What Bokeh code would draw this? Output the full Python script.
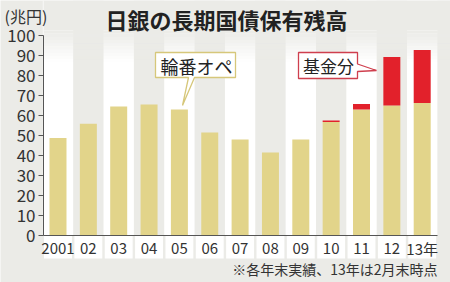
from bokeh.plotting import figure
from bokeh.models import Range1d, FixedTicker
from bokeh.core.properties import value
from bokeh.embed import file_html
from bokeh.resources import INLINE

# ---- data ----
years = ["2001", "02", "03", "04", "05", "06", "07", "08", "09", "10", "11", "12", "13年"]
rinban = [48.7, 55.9, 64.5, 65.5, 63.0, 51.5, 48.0, 41.5, 48.0, 56.8, 63.0, 65.0, 66.3]
kikin = [0, 0, 0, 0, 0, 0, 0, 0, 0, 0.7, 2.8, 24.2, 26.5]
yticks = [0, 10, 20, 30, 40, 50, 60, 70, 80, 90, 100]

title_text = "日銀の長期国債保有残高"
unit_text = "(兆円)"
note_text = "※各年末実績、13年は2月末時点"
call1_text = "輪番オペ"
call2_text = "基金分"

# ---- layout constants (pixels) ----
W, H = 450, 282
X0PX, DX = 57.5, 30.35
Y0PX, DY = 235.0, 2.0
LEFT = 43

def xd(px):
    return (px - X0PX) / DX

def yd(py):
    return (Y0PX - py) / DY

BG = "#ebebe7"
BEIGE = "#e2d48a"
RED = "#e2212b"
JP = value("Noto Sans CJK JP")

p = figure(width=W, height=H, output_backend="svg", toolbar_location=None,
           x_range=Range1d(xd(0), xd(W)), y_range=Range1d(yd(H), yd(0)),
           x_axis_location=None,
           min_border_left=0, min_border_right=0, min_border_top=0, min_border_bottom=0)
p.background_fill_color = BG
p.border_fill_color = BG
p.outline_line_color = None
p.xgrid.visible = False
p.ygrid.visible = False

idx = list(range(len(years)))

# white column bands
even = [i for i in idx if i % 2 == 0]
p.quad(left=[i - 0.5 for i in even], right=[i + 0.5 for i in even],
       bottom=0, top=yd(0), fill_color="white", line_color=None)
# gradient fade at top
top_solid = yd(30)
fade_end = yd(62)
n = 10
step = (top_solid - fade_end) / n
p.quad(left=xd(LEFT), right=xd(W), bottom=top_solid, top=yd(0),
       fill_color=BG, line_color=None)
for k in range(n):
    b = fade_end + k * step
    p.quad(left=xd(LEFT), right=xd(W), bottom=b, top=b + step,
           fill_color=BG, fill_alpha=(k + 0.5) / n, line_color=None)

# label boxes under the axis
p.quad(left=[i - 0.46 for i in idx], right=[i + 0.46 for i in idx],
       bottom=yd(258), top=0, fill_color="white", line_color=None)

# bars
p.vbar(x=idx, width=0.56, bottom=0, top=rinban, fill_color=BEIGE, line_color=None)
ri = [i for i in idx if kikin[i] > 0]
p.vbar(x=ri, width=0.56, bottom=[rinban[i] for i in ri],
       top=[rinban[i] + kikin[i] for i in ri], fill_color=RED, line_color=None)

# x axis line
p.segment(x0=[xd(LEFT)], y0=[0], x1=[xd(437)], y1=[0], line_color="#555555", line_width=1)

# y axis, fixed at the left edge of the bar area
ax = p.yaxis[0]
ax.fixed_location = xd(LEFT)
ax.ticker = FixedTicker(ticks=yticks)
ax.bounds = (0, 100)
ax.axis_line_color = "#555555"
ax.major_tick_line_color = "#555555"
ax.major_tick_out = 5
ax.major_tick_in = 0
ax.minor_tick_line_color = None
ax.major_label_standoff = 3
ax.major_label_text_font = "Noto Sans CJK JP"
ax.major_label_text_font_size = "17px"
ax.major_label_text_color = "#333333"

# x labels
p.text(x=idx, y=yd(248), text=years, text_align="center", text_baseline="middle",
       text_font=JP, text_font_size="15px", text_color="#333333")

# note
p.text(x=[xd(437)], y=[yd(268)], text=[note_text], text_align="right", text_baseline="middle",
       text_font=JP, text_font_size="14px", text_color="#333333")

# title
p.text(x=[xd(226)], y=[yd(18)], text=[title_text], text_align="center", text_baseline="middle",
       text_font=JP, text_font_size="22px", text_font_style="bold", text_color="#222222")

# unit label
p.text(x=[xd(4)], y=[yd(15)], text=[unit_text], text_align="left", text_baseline="middle",
       text_font=JP, text_font_size="16px", text_color="#333333")

# callout 1: 輪番オペ
c1 = [(155, 52), (235, 52), (235, 77), (194, 77), (182, 105), (188, 77), (155, 77)]
p.patch(x=[xd(a) for a, b in c1], y=[yd(b) for a, b in c1], fill_color="white",
        line_color="#d6c77a", line_width=1.3)
p.text(x=[xd(196)], y=[yd(65)], text=[call1_text], text_align="center", text_baseline="middle",
       text_font=JP, text_font_size="18px", text_color="#222222")

# callout 2: 基金分
c2 = [(298, 52), (357, 52), (357, 63.5), (376, 70), (357, 71), (357, 78), (298, 78)]
p.patch(x=[xd(a) for a, b in c2], y=[yd(b) for a, b in c2], fill_color="white",
        line_color="#cf3f4e", line_width=1.3)
p.text(x=[xd(328)], y=[yd(65)], text=[call2_text], text_align="center", text_baseline="middle",
       text_font=JP, text_font_size="17px", text_color="#222222")

open("out.html", "w").write(file_html(p, INLINE))
